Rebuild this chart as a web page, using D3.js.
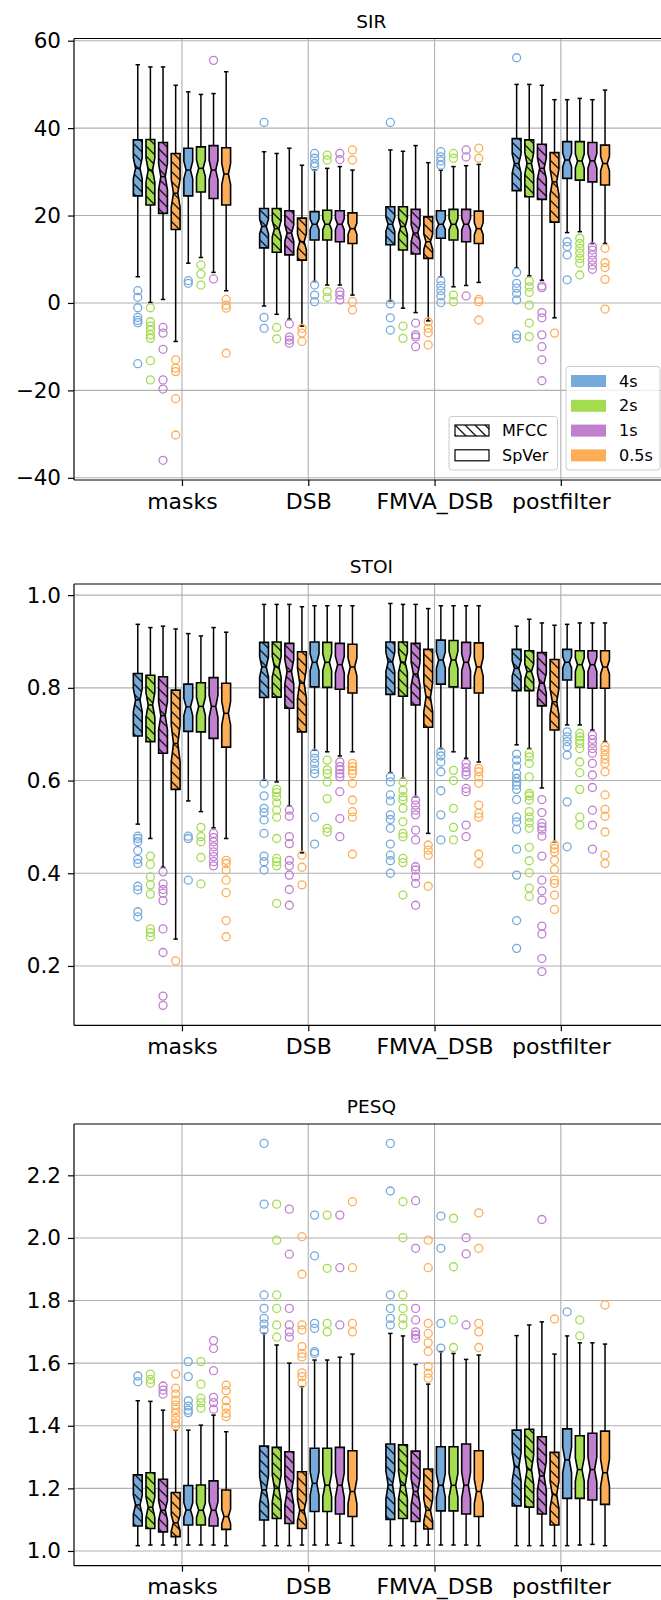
<!DOCTYPE html>
<html lang="en">
<head>
<meta charset="UTF-8">
<title>SIR / STOI / PESQ</title>
<script src="https://cdn.jsdelivr.net/npm/d3@7"></script>
<style>
    body { margin: 0; background: #fff; }
    svg text { font-family: "DejaVu Sans", sans-serif; fill: #000; }
</style>
</head>
<body>
<div id="chart-space"></div>
<script>

// categories / series
var categories = ["masks", "DSB", "FMVA_DSB", "postfilter"];
var durations = ["4s", "2s", "1s", "0.5s"];
var features = ["MFCC", "SpVer"];
var colors = ["#75aadb", "#a4dc50", "#c07fcf", "#fdad55"];

// box stats per category: [whiskerLow, q1, median, q3, whiskerHigh]
// order: MFCC 4s,2s,1s,0.5s then SpVer 4s,2s,1s,0.5s
var sirStats = [
    [[6.0,24.5,30.8,37.3,54.5],[0.1,22.4,30.4,37.4,54.0],[0.8,20.5,28.9,36.7,54.0],[-8.8,16.8,25.1,34.2,49.8],
     [9.1,24.5,30.4,35.4,48.3],[10.4,25.4,30.8,35.7,47.7],[7.0,23.9,30.4,36.0,47.9],[2.8,22.4,29.5,35.5,52.9]],
    [[-0.7,12.6,17.5,21.6,34.6],[-2.6,11.6,17.0,21.6,34.2],[-3.7,11.0,16.0,21.1,35.4],[-5.3,9.8,14.0,19.4,31.5],
     [4.9,14.4,18.0,20.9,30.4],[4.1,14.4,18.0,21.2,30.8],[4.1,14.0,18.0,21.1,31.2],[1.8,13.6,17.0,20.6,30.4]],
    [[0.5,13.3,18.0,22.0,35.0],[-1.2,12.1,17.5,22.0,34.7],[-2.2,11.2,16.0,21.4,36.0],[-4.1,10.2,14.0,19.7,32.1],
     [6.0,14.8,18.0,21.1,30.4],[3.7,14.4,18.0,21.4,31.2],[4.0,14.0,18.0,21.4,31.4],[4.7,13.6,17.0,21.0,31.7]],
    [[8.0,25.7,31.9,37.6,50.0],[6.2,24.3,31.9,37.3,50.0],[5.2,23.7,30.8,36.3,49.8],[-3.4,18.5,27.7,34.4,46.5],
     [16.1,28.5,32.7,36.9,46.5],[16.3,28.1,32.5,36.9,46.8],[13.6,27.7,32.5,36.7,46.5],[13.6,27.0,31.9,36.1,48.7]]
];
var sirFliers = [
    [[2.8,1.3,-1.1,-3.3,-4.0,-4.5,-13.9],[-1.1,-4.3,-5.3,-6.2,-7.3,-8.1,-13.2,-17.6],[-5.6,-6.9,-10.6,-17.6,-19.7,-36.0],[-13.0,-14.9,-15.7,-21.9,-30.2],
     [5.1,4.5],[8.7,6.6,4.1],[55.5,5.5],[0.8,-0.5,-1.2,-11.5]],
    [[41.3,-3.3,-5.8],[-5.6,-8.2],[-4.8,-7.8,-8.5,-9.2],[-5.8,-6.9,-8.8],
     [34.2,33.1,31.9,31.2,4.1,1.8,0.3],[33.8,32.7,2.6,1.3],[34.2,32.8,2.6,1.8,0.7],[35.0,32.7,0.3,-1.6]],
    [[41.3,-0.2,-3.4,-6.2],[-5.3,-8.1],[-4.6,-7.3,-7.8,-10.0],[-4.3,-5.8,-6.8,-9.6],
     [34.6,33.4,32.5,31.5,5.1,3.9,2.8,1.6,0.1],[34.2,33.1,1.8,0.3],[35.0,33.4,1.6],[35.4,33.1,0.8,0.3,-3.9]],
    [[56.1,7.0,4.5,3.4,2.2,0.7,-7.3,-8.1],[5.0,3.7,2.4,-0.5,-4.6,-7.7],[3.9,3.5,-2.2,-3.4,-7.3,-10.0,-13.0,-17.8],[-6.9],
     [14.0,12.9,11.0,5.3],[14.8,13.6,12.5,11.4,10.2,9.1,6.4],[12.9,12.1,11.0,9.8,8.7,7.7],[12.5,9.2,8.1,5.4,-1.4]]
];

var stoiStats = [
    [[0.506,0.696,0.774,0.831,0.937],[0.475,0.684,0.763,0.827,0.930],[0.413,0.659,0.740,0.824,0.933],[0.258,0.581,0.680,0.795,0.927],
     [0.556,0.706,0.759,0.808,0.917],[0.533,0.705,0.760,0.811,0.912],[0.498,0.691,0.760,0.822,0.930],[0.475,0.672,0.745,0.810,0.920]],
    [[0.601,0.779,0.845,0.898,0.980],[0.597,0.780,0.845,0.899,0.980],[0.545,0.756,0.835,0.896,0.980],[0.444,0.705,0.810,0.878,0.975],
     [0.666,0.802,0.855,0.899,0.977],[0.662,0.801,0.855,0.898,0.977],[0.653,0.797,0.850,0.896,0.977],[0.662,0.789,0.845,0.894,0.977]],
    [[0.617,0.786,0.856,0.899,0.982],[0.605,0.782,0.855,0.899,0.980],[0.565,0.763,0.830,0.896,0.980],[0.486,0.715,0.780,0.883,0.971],
     [0.669,0.808,0.860,0.903,0.977],[0.662,0.802,0.860,0.902,0.977],[0.648,0.799,0.855,0.898,0.977],[0.640,0.789,0.845,0.897,0.977]],
    [[0.677,0.794,0.842,0.883,0.933],[0.669,0.794,0.835,0.880,0.948],[0.584,0.761,0.810,0.876,0.940],[0.468,0.709,0.770,0.861,0.935],
     [0.720,0.817,0.855,0.883,0.937],[0.720,0.801,0.850,0.880,0.940],[0.709,0.799,0.850,0.880,0.940],[0.684,0.799,0.845,0.880,0.940]]
];
var stoiFliers = [
    [[0.480,0.475,0.468,0.449,0.430,0.421,0.372,0.364,0.317,0.306],[0.437,0.419,0.392,0.375,0.355,0.280,0.272,0.263],
     [0.403,0.377,0.365,0.357,0.341,0.280,0.229,0.135,0.115],[0.211],
     [0.480,0.475,0.385],[0.499,0.479,0.468,0.434,0.377],[0.486,0.477,0.468,0.457,0.446,0.436,0.425,0.416],[0.428,0.421,0.407,0.385,0.358,0.298,0.263]],
    [[0.594,0.567,0.540,0.531,0.515,0.486,0.437,0.425,0.407],[0.581,0.574,0.565,0.552,0.536,0.521,0.475,0.432,0.425,0.416,0.335],
     [0.536,0.523,0.479,0.464,0.428,0.416,0.396,0.365,0.331],[0.439,0.413,0.375],
     [0.659,0.648,0.637,0.624,0.615,0.521,0.463],[0.644,0.623,0.615,0.597,0.561,0.497,0.489],
     [0.640,0.630,0.623,0.615,0.608,0.576,0.518,0.479],[0.637,0.630,0.622,0.615,0.594,0.558,0.533,0.521,0.441]],
    [[0.608,0.597,0.569,0.556,0.526,0.516,0.497,0.463,0.439,0.427,0.400],[0.597,0.579,0.565,0.558,0.540,0.511,0.486,0.479,0.432,0.423,0.353],
     [0.558,0.547,0.536,0.526,0.493,0.472,0.414,0.407,0.392,0.378,0.331],[0.461,0.450,0.439,0.372],
     [0.662,0.653,0.640,0.619,0.578,0.526,0.472],[0.622,0.600,0.540,0.499,0.472],
     [0.637,0.628,0.619,0.612,0.583,0.576,0.504,0.479],[0.626,0.619,0.608,0.594,0.547,0.529,0.521,0.441,0.421]],
    [[0.657,0.644,0.631,0.615,0.605,0.597,0.590,0.581,0.559,0.521,0.511,0.495,0.452,0.396,0.298,0.238],
     [0.659,0.651,0.637,0.608,0.572,0.567,0.558,0.533,0.521,0.509,0.497,0.456,0.427,0.401,0.368,0.350],
     [0.559,0.531,0.508,0.500,0.493,0.480,0.437,0.385,0.362,0.342,0.286,0.269,0.216,0.188],
     [0.461,0.453,0.446,0.428,0.408,0.385,0.378,0.353,0.322],
     [0.705,0.694,0.684,0.673,0.655,0.554,0.457],[0.702,0.694,0.687,0.680,0.669,0.640,0.617,0.581,0.521,0.504],
     [0.698,0.689,0.680,0.669,0.659,0.637,0.612,0.585,0.536,0.504,0.452],
     [0.674,0.666,0.655,0.646,0.637,0.619,0.569,0.538,0.523,0.489,0.439,0.421]]
];

var pesqStats = [
    [[1.017,1.080,1.147,1.243,1.480],[1.019,1.072,1.140,1.250,1.478],[1.019,1.061,1.130,1.229,1.450],[1.019,1.046,1.090,1.187,1.386],
     [1.019,1.083,1.131,1.209,1.386],[1.019,1.083,1.130,1.211,1.402],[1.019,1.080,1.130,1.224,1.434],[1.017,1.069,1.110,1.195,1.381]],
    [[1.017,1.099,1.195,1.335,1.695],[1.017,1.104,1.200,1.331,1.658],[1.017,1.088,1.190,1.317,1.600],[1.019,1.072,1.130,1.253,1.525],
     [1.019,1.126,1.216,1.328,1.610],[1.019,1.126,1.210,1.328,1.610],[1.025,1.118,1.210,1.331,1.619],[1.017,1.110,1.190,1.320,1.629]],
    [[1.017,1.101,1.211,1.342,1.695],[1.017,1.104,1.210,1.339,1.687],[1.017,1.094,1.190,1.319,1.596],[1.019,1.070,1.130,1.262,1.533],
     [1.019,1.128,1.210,1.333,1.637],[1.019,1.128,1.210,1.333,1.631],[1.019,1.118,1.210,1.342,1.612],[1.017,1.110,1.190,1.320,1.626]],
    [[1.017,1.144,1.269,1.386,1.688],[1.017,1.140,1.260,1.389,1.722],[1.017,1.118,1.240,1.365,1.732],[1.017,1.083,1.180,1.315,1.629],
     [1.017,1.168,1.291,1.390,1.687],[1.019,1.168,1.260,1.368,1.665],[1.021,1.163,1.260,1.376,1.665],[1.017,1.149,1.250,1.383,1.661]]
];
var pesqFliers = [
    [[1.559,1.541],[1.565,1.548,1.536],[1.527,1.514,1.501],[1.565,1.520,1.501,1.482,1.466,1.453,1.440,1.424,1.408,1.399],
     [1.605,1.557,1.480,1.463,1.450,1.442],[1.605,1.533,1.488,1.474,1.456],[1.672,1.647,1.576,1.491,1.474,1.453],[1.530,1.512,1.480,1.459,1.440,1.429]],
    [[2.302,2.108,1.818,1.775,1.743,1.725,1.706],[2.108,1.993,1.818,1.775,1.722,1.683],[2.092,1.948,1.775,1.722,1.700,1.683],
     [2.004,1.884,1.722,1.706,1.653,1.631,1.620,1.569,1.557,1.536],
     [2.073,1.943,1.727,1.711,1.637,1.631],[2.073,1.903,1.727,1.700],[2.073,1.905,1.722],[2.116,1.905,1.727,1.700]],
    [[2.302,2.150,1.818,1.775,1.743,1.722],[2.116,2.001,1.818,1.775,1.743,1.722],[2.119,1.967,1.775,1.738,1.700,1.690,1.679],
     [1.993,1.905,1.727,1.695,1.665,1.637,1.589,1.568,1.552],
     [2.070,1.967,1.727,1.648],[2.063,1.908,1.738,1.650],[2.001,1.949,1.722],[2.080,1.967,1.727,1.700,1.650]],
    [[],[],[2.059],[1.741],[1.764],[1.738,1.687],[],[1.786]]
];

// tick labels
var sirTicks = [-40, -20, 0, 20, 40, 60];
var stoiTicks = [0.2, 0.4, 0.6, 0.8, 1.0];
var pesqTicks = [1.0, 1.2, 1.4, 1.6, 1.8, 2.0, 2.2];

var panels = [
    {title: "SIR", stats: sirStats, fliers: sirFliers, ticks: sirTicks, fmt: d3.format("d"), domain: [-40.5, 60.5], top: 38.5, bottom: 480},
    {title: "STOI", stats: stoiStats, fliers: stoiFliers, ticks: stoiTicks, fmt: d3.format(".1f"), domain: [0.072, 1.024], top: 584, bottom: 1025.3},
    {title: "PESQ", stats: pesqStats, fliers: pesqFliers, ticks: pesqTicks, fmt: d3.format(".1f"), domain: [0.953, 2.364], top: 1124, bottom: 1565.7}
];

var width = 661, height = 1600;
var plotLeft = 74, plotRight = 668.8;
var nSamples = 72; // used for notch size like matplotlib

var svg = d3.select("#chart-space").append("svg")
    .attr("width", width)
    .attr("height", height);

// "\\" hatch
svg.append("defs").append("pattern")
    .attr("id", "hatch")
    .attr("patternUnits", "userSpaceOnUse")
    .attr("width", 10).attr("height", 10)
    .append("path")
    .attr("d", "M-2,-2L12,12M-2,8L2,12M8,-2L12,2")
    .attr("stroke", "#111").attr("stroke-width", 1.3);

var xScale = d3.scaleLinear().domain([0.145, 4.855]).range([plotLeft, plotRight]);
var boxW = xScale(0.07) - xScale(0);

panels.forEach(function(p) {
    var yScale = d3.scaleLinear().domain(p.domain).range([p.bottom, p.top]);
    var g = svg.append("g");

    // grid
    g.selectAll(".hgrid").data(p.ticks).join("line")
        .attr("x1", plotLeft).attr("x2", plotRight)
        .attr("y1", d => yScale(d)).attr("y2", d => yScale(d))
        .attr("stroke", "#b0b0b0").attr("stroke-width", 1.1);
    g.selectAll(".vgrid").data(categories).join("line")
        .attr("x1", (d, i) => xScale(i + 1)).attr("x2", (d, i) => xScale(i + 1))
        .attr("y1", p.top).attr("y2", p.bottom)
        .attr("stroke", "#b0b0b0").attr("stroke-width", 1.1);

    // flatten boxes
    var boxes = [];
    p.stats.forEach(function(group, ci) {
        group.forEach(function(s, bi) {
            boxes.push({
                x: xScale(ci + 1 - 0.35 + 0.1 * bi),
                s: s,
                fl: p.fliers[ci][bi],
                color: colors[bi % 4],
                hatched: bi < 4
            });
        });
    });

    var bg = g.selectAll(".box").data(boxes).join("g");

    // whiskers + caps
    bg.append("line")
        .attr("x1", d => d.x).attr("x2", d => d.x)
        .attr("y1", d => yScale(d.s[0])).attr("y2", d => yScale(d.s[1]))
        .attr("stroke", "#000").attr("stroke-width", 1.5);
    bg.append("line")
        .attr("x1", d => d.x).attr("x2", d => d.x)
        .attr("y1", d => yScale(d.s[3])).attr("y2", d => yScale(d.s[4]))
        .attr("stroke", "#000").attr("stroke-width", 1.5);
    [0, 4].forEach(function(k) {
        bg.append("line")
            .attr("x1", d => d.x - boxW * 0.25).attr("x2", d => d.x + boxW * 0.25)
            .attr("y1", d => yScale(d.s[k])).attr("y2", d => yScale(d.s[k]))
            .attr("stroke", "#000").attr("stroke-width", 1.5);
    });

    function notchPath(d) {
        var q1 = d.s[1], med = d.s[2], q3 = d.s[3];
        var half = 1.57 * (q3 - q1) / Math.sqrt(nSamples);
        var lo = Math.max(q1, med - half), hi = Math.min(q3, med + half);
        var l = d.x - boxW / 2, r = d.x + boxW / 2;
        var nl = d.x - boxW / 4, nr = d.x + boxW / 4;
        return "M" + l + "," + yScale(q1) +
            "L" + l + "," + yScale(lo) +
            "L" + nl + "," + yScale(med) +
            "L" + l + "," + yScale(hi) +
            "L" + l + "," + yScale(q3) +
            "L" + r + "," + yScale(q3) +
            "L" + r + "," + yScale(hi) +
            "L" + nr + "," + yScale(med) +
            "L" + r + "," + yScale(lo) +
            "L" + r + "," + yScale(q1) + "Z";
    }

    bg.append("path").attr("d", notchPath).attr("fill", d => d.color);
    bg.filter(d => d.hatched).append("path").attr("d", notchPath).attr("fill", "url(#hatch)");
    bg.append("path").attr("d", notchPath)
        .attr("fill", "none").attr("stroke", "#000").attr("stroke-width", 1.6);
    bg.append("line")
        .attr("x1", d => d.x - boxW / 4).attr("x2", d => d.x + boxW / 4)
        .attr("y1", d => yScale(d.s[2])).attr("y2", d => yScale(d.s[2]))
        .attr("stroke", "#000").attr("stroke-width", 1.5);

    // fliers
    bg.selectAll("circle").data(d => d.fl.map(v => ({v: v, x: d.x, color: d.color}))).join("circle")
        .attr("cx", d => d.x).attr("cy", d => yScale(d.v))
        .attr("r", 4).attr("fill", "none")
        .attr("stroke", d => d.color).attr("stroke-width", 1.3);

    // axes
    var yAxis = g.append("g")
        .attr("transform", "translate(" + plotLeft + ",0)")
        .call(d3.axisLeft(yScale).tickValues(p.ticks).tickFormat(p.fmt).tickSize(6).tickPadding(7).tickSizeOuter(0));
    yAxis.select(".domain").remove();
    yAxis.selectAll("text").style("font-size", "21.5px");
    yAxis.selectAll(".tick line").attr("stroke-width", 1.2);

    var xAxis = g.append("g")
        .attr("transform", "translate(0," + p.bottom + ")")
        .call(d3.axisBottom(xScale).tickValues([1, 2, 3, 4]).tickFormat(d => categories[d - 1]).tickSize(6).tickPadding(7).tickSizeOuter(0));
    xAxis.select(".domain").remove();
    xAxis.selectAll("text").style("font-size", "22px");
    xAxis.selectAll(".tick line").attr("stroke-width", 1.2);

    // spines
    g.append("line").attr("x1", plotLeft).attr("x2", plotRight).attr("y1", p.top).attr("y2", p.top)
        .attr("stroke", "#000").attr("stroke-width", 1.2);
    g.append("line").attr("x1", plotLeft).attr("x2", plotRight).attr("y1", p.bottom).attr("y2", p.bottom)
        .attr("stroke", "#000").attr("stroke-width", 1.2);
    g.append("line").attr("x1", plotLeft).attr("x2", plotLeft).attr("y1", p.top).attr("y2", p.bottom)
        .attr("stroke", "#000").attr("stroke-width", 1.2);

    g.append("text")
        .attr("x", (plotLeft + plotRight) / 2).attr("y", p.top - 11)
        .attr("text-anchor", "middle")
        .style("font-size", "18.5px")
        .text(p.title);
});

// legends (top panel only)
var lg1 = svg.append("g");
lg1.append("rect").attr("x", 566).attr("y", 366.5).attr("width", 94).attr("height", 103.5)
    .attr("rx", 3).attr("fill", "#fff").attr("fill-opacity", 0.8).attr("stroke", "#cccccc");
durations.forEach(function(d, i) {
    var cy = 381 + i * 24.8;
    lg1.append("rect").attr("x", 571).attr("y", cy - 6).attr("width", 35).attr("height", 12).attr("fill", colors[i]);
    lg1.append("text").attr("x", 619).attr("y", cy).attr("dy", "0.35em").style("font-size", "16px").text(d);
});

var lg2 = svg.append("g");
lg2.append("rect").attr("x", 449).attr("y", 416.5).attr("width", 108.5).attr("height", 53.5)
    .attr("rx", 3).attr("fill", "#fff").attr("fill-opacity", 0.8).attr("stroke", "#cccccc");
features.forEach(function(f, i) {
    var cy = 430.5 + i * 24.8;
    lg2.append("rect").attr("x", 455).attr("y", cy - 5.5).attr("width", 34).attr("height", 11)
        .attr("fill", i === 0 ? "url(#hatch)" : "#fff").attr("stroke", "#000").attr("stroke-width", 1.2);
    lg2.append("text").attr("x", 502).attr("y", cy).attr("dy", "0.35em").style("font-size", "16px").text(f);
});

</script>
</body>
</html>
